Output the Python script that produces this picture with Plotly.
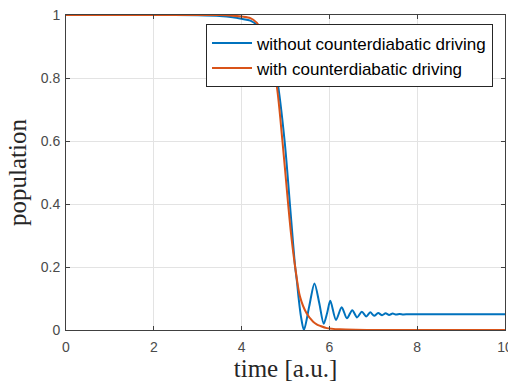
import plotly.graph_objects as go

# time samples and populations
t_without = [0.0, 1.0, 2.0, 3.0, 3.5, 3.8, 4.0, 4.2, 4.35, 4.5, 4.65, 4.81, 4.98, 5.10, 5.17,
             5.22, 5.26, 5.30, 5.35, 5.42, 5.54, 5.66, 5.77, 5.87, 5.95, 6.02, 6.15, 6.28,
             6.40, 6.52, 6.63, 6.74, 6.84, 6.93, 7.02, 7.11, 7.20, 7.28, 7.36, 7.44, 7.52,
             7.60, 7.68, 7.80, 8.0, 9.0, 10.0]
pop_without = [1.0, 1.0, 1.0, 0.999, 0.997, 0.993, 0.988, 0.982, 0.968, 0.94, 0.89, 0.794,
               0.6, 0.4, 0.28, 0.2, 0.155, 0.10, 0.045, 0.0, 0.075, 0.148, 0.085, 0.02,
               0.055, 0.093, 0.032, 0.072, 0.037, 0.063, 0.040, 0.058, 0.043, 0.056, 0.045,
               0.054, 0.047, 0.053, 0.048, 0.052, 0.049, 0.051, 0.0495, 0.050, 0.050, 0.050, 0.050]

t_with = [0.0, 1.0, 2.0, 3.0, 3.5, 3.8, 4.0, 4.2, 4.35, 4.42, 4.55, 4.78, 4.93, 5.06, 5.13,
          5.22, 5.33, 5.48, 5.63, 5.71, 5.79, 5.94, 6.24, 6.6, 7.0, 8.0, 9.0, 10.0]
pop_with = [1.0, 1.0, 1.0, 1.0, 1.0, 0.998, 0.995, 0.99, 0.975, 0.96, 0.92, 0.794, 0.6, 0.4,
            0.3, 0.2, 0.106, 0.053, 0.026, 0.018, 0.013, 0.006, 0.002, 0.0005, 0.0, 0.0, 0.0, 0.0]

x_ticks = [0, 2, 4, 6, 8, 10]
y_ticks = [0, 0.2, 0.4, 0.6, 0.8, 1]

fig = go.Figure()
fig.add_trace(go.Scatter(x=t_without, y=pop_without, mode="lines",
                         name="without counterdiabatic driving",
                         line=dict(color="#0072BD", width=2, shape="spline", smoothing=0.8)))
fig.add_trace(go.Scatter(x=t_with, y=pop_with, mode="lines",
                         name="with counterdiabatic driving",
                         line=dict(color="#D95319", width=2, shape="spline", smoothing=0.8)))

axis_common = dict(showline=True, linecolor="#404040", linewidth=1, mirror="ticks",
                   ticks="inside", ticklen=4, tickcolor="#404040",
                   showgrid=True, gridcolor="#e3e3e3", gridwidth=1, zeroline=False,
                   ticklabeloverflow="allow", automargin=False,
                   tickfont=dict(family="Liberation Sans, Arial", size=14, color="#4a4a4a"))

fig.update_layout(
    width=508, height=383,
    margin=dict(l=66, r=3, t=15, b=53),
    paper_bgcolor="white", plot_bgcolor="white",
    xaxis=dict(range=[0, 10], tickvals=x_ticks, ticklabelstandoff=4,
               title=dict(text="time [a.u.]", standoff=4,
                          font=dict(family="Liberation Serif, serif", size=25, color="#262626")),
               **axis_common),
    yaxis=dict(range=[0, 1], tickvals=y_ticks, ticklabelstandoff=2,
               title=dict(text="population", standoff=6,
                          font=dict(family="Liberation Serif, serif", size=25, color="#262626")),
               **axis_common),
    legend=dict(x=0.9727, y=0.97, xanchor="right", yanchor="top",
                bgcolor="white", bordercolor="#262626", borderwidth=1,
                font=dict(family="Liberation Sans, Arial", size=17, color="black"),
                itemwidth=40, tracegroupgap=0),
    showlegend=True,
)

fig.write_html("out.html")
